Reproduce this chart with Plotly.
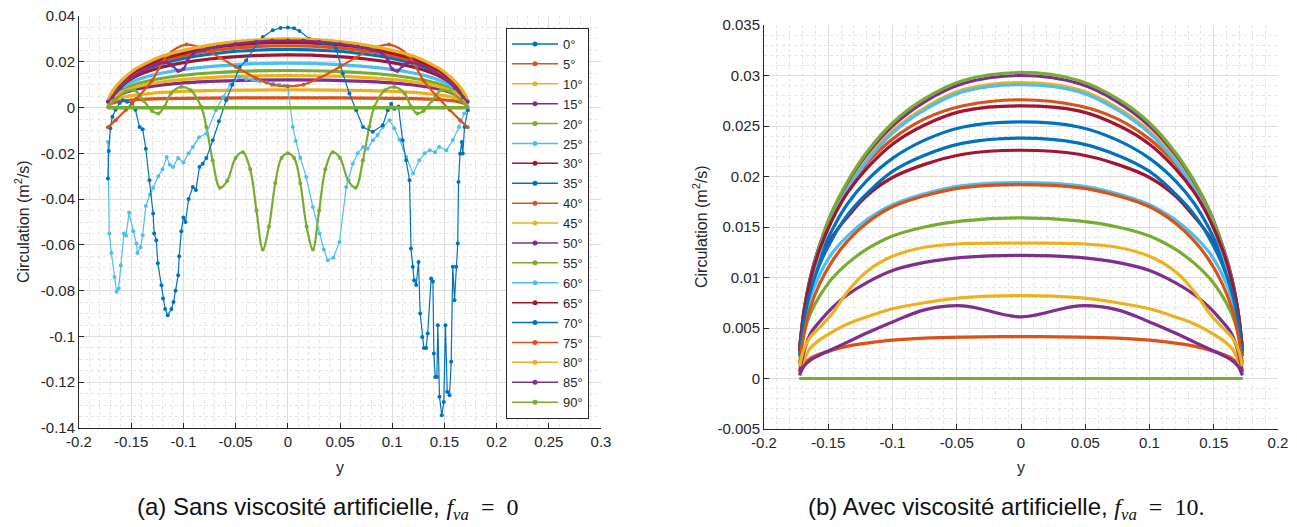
import plotly.graph_objects as go

# ---------------- common ----------------
ANGLES = [0, 5, 10, 15, 20, 25, 30, 35, 40, 45, 50, 55, 60, 65, 70, 75, 80, 85, 90]
ANGLE_LABELS = [f"{a}°" for a in ANGLES]
MATLAB_COLORS = ["#0072BD", "#D95319", "#EDB120", "#7E2F8E", "#77AC30", "#4DBEEE", "#A2142F"]

# span positions shared by the smooth distributions
Y_GRID = [-0.1723, -0.169, -0.164, -0.157, -0.147, -0.135, -0.12, -0.1, -0.075, -0.045, 0.0,
          0.045, 0.075, 0.1, 0.12, 0.135, 0.147, 0.157, 0.164, 0.169, 0.1723]

# ---------------- panel (a): sans viscosite artificielle ----------------
A_0 = [0.0, 0.0, 0.0, 0.0, 0.0, 0.0, 0.0, 0.0, 0.0, 0.0, 0.0, 0.0, 0.0, 0.0, 0.0, 0.0, 0.0, 0.0, 0.0, 0.0, 0.0]
A_5 = [0.0008, 0.0018, 0.0025, 0.0030, 0.0034, 0.0037, 0.0039, 0.00405, 0.00415, 0.0042, 0.0042, 0.0042, 0.00415, 0.00405, 0.0039, 0.0037, 0.0034, 0.0030, 0.0025, 0.0018, 0.0008]
A_10 = [0.0012, 0.0026, 0.0037, 0.0046, 0.0054, 0.0060, 0.0066, 0.0071, 0.0074, 0.0076, 0.0077, 0.0076, 0.0074, 0.0071, 0.0066, 0.0060, 0.0054, 0.0046, 0.0037, 0.0026, 0.0012]
A_15 = [0.0015, 0.0034, 0.0050, 0.0064, 0.0079, 0.0089, 0.0099, 0.0108, 0.0114, 0.0119, 0.0121, 0.0119, 0.0114, 0.0108, 0.0099, 0.0089, 0.0079, 0.0064, 0.0050, 0.0034, 0.0015]
A_20 = [0.0018, 0.0040, 0.0061, 0.0080, 0.0100, 0.0115, 0.0128, 0.0141, 0.0151, 0.0158, 0.0162, 0.0158, 0.0151, 0.0141, 0.0128, 0.0115, 0.0100, 0.0080, 0.0061, 0.0040, 0.0018]
A_25 = [0.0020, 0.0045, 0.0069, 0.0092, 0.0116, 0.0135, 0.0151, 0.0167, 0.0179, 0.0189, 0.0194, 0.0189, 0.0179, 0.0167, 0.0151, 0.0135, 0.0116, 0.0092, 0.0069, 0.0045, 0.0020]
A_30 = [0.0022, 0.0050, 0.0077, 0.0104, 0.0133, 0.0156, 0.0177, 0.0196, 0.0212, 0.0224, 0.0230, 0.0224, 0.0212, 0.0196, 0.0177, 0.0156, 0.0133, 0.0104, 0.0077, 0.0050, 0.0022]
A_35 = [0.0024, 0.0053, 0.0082, 0.0111, 0.0143, 0.0169, 0.0193, 0.0215, 0.0233, 0.0247, 0.0254, 0.0247, 0.0233, 0.0215, 0.0193, 0.0169, 0.0143, 0.0111, 0.0082, 0.0053, 0.0024]
A_40 = [0.0025, 0.0056, 0.0086, 0.0116, 0.0150, 0.0178, 0.0204, 0.0227, 0.0247, 0.0262, 0.0270, 0.0262, 0.0247, 0.0227, 0.0204, 0.0178, 0.0150, 0.0116, 0.0086, 0.0056, 0.0025]
A_45 = [0.0015, 0.0036, 0.0054, 0.0071, 0.0088, 0.0101, 0.0112, 0.0123, 0.0131, 0.0137, 0.0140, 0.0137, 0.0131, 0.0123, 0.0112, 0.0101, 0.0088, 0.0071, 0.0054, 0.0036, 0.0015]
A_50 = [0.0027, 0.0059, 0.0091, 0.0123, 0.0159, 0.0189, 0.0218, 0.0244, 0.0266, 0.0283, 0.0292, 0.0283, 0.0266, 0.0244, 0.0218, 0.0189, 0.0159, 0.0123, 0.0091, 0.0059, 0.0027]
A_65 = [0.0026, 0.0058, 0.0089, 0.0120, 0.0156, 0.0185, 0.0213, 0.0238, 0.0260, 0.0276, 0.0285, 0.0276, 0.0260, 0.0238, 0.0213, 0.0185, 0.0156, 0.0120, 0.0089, 0.0058, 0.0026]
A_80 = [0.0030, 0.0062, 0.0095, 0.0128, 0.0165, 0.0195, 0.0225, 0.0250, 0.0273, 0.0290, 0.0300, 0.0290, 0.0273, 0.0250, 0.0225, 0.0195, 0.0165, 0.0128, 0.0095, 0.0062, 0.0030]
A_90 = [0.0, 0.0, 0.0, 0.0, 0.0, 0.0, 0.0, 0.0, 0.0, 0.0, 0.0, 0.0, 0.0, 0.0, 0.0, 0.0, 0.0, 0.0, 0.0, 0.0, 0.0]

A_55_Y = [-0.1723, -0.165, -0.155, -0.147, -0.138, -0.13, -0.124, -0.118, -0.112, -0.102, -0.093, -0.083,
          -0.078, -0.072, -0.065, -0.058, -0.05, -0.043, -0.036, -0.03, -0.024, -0.018, -0.012, -0.006, 0.0,
          0.006, 0.012, 0.018, 0.024, 0.03, 0.036, 0.043, 0.05, 0.058, 0.065, 0.072, 0.078, 0.083, 0.093,
          0.102, 0.112, 0.118, 0.124, 0.13, 0.138, 0.147, 0.155, 0.165, 0.1723]
A_55 = [0.0002, 0.0035, 0.0070, 0.0076, 0.0030, -0.0015, -0.0026, 0.0005, 0.0061, 0.0090, 0.0076, 0.0003,
        -0.0085, -0.0230, -0.0350, -0.0320, -0.0220, -0.0195, -0.0270, -0.0450, -0.0620, -0.0520, -0.0330, -0.0220, -0.0200,
        -0.0220, -0.0330, -0.0520, -0.0620, -0.0450, -0.0270, -0.0195, -0.0220, -0.0320, -0.0350, -0.0230, -0.0085, 0.0003, 0.0076,
        0.0090, 0.0061, 0.0005, -0.0026, -0.0015, 0.0030, 0.0076, 0.0070, 0.0035, 0.0002]

A_60_Y = [-0.1723, -0.171, -0.169, -0.166, -0.164, -0.162, -0.160, -0.157, -0.155, -0.152, -0.148, -0.145,
          -0.144, -0.141, -0.139, -0.136, -0.132, -0.129, -0.124, -0.12, -0.116, -0.113, -0.11, -0.105, -0.1,
          -0.095, -0.091, -0.085, -0.078, -0.069, -0.062, -0.055, -0.046, -0.04, -0.0335, -0.027, -0.0207,
          -0.014, -0.008, -0.003, 0.0, 0.0048, 0.0077, 0.012, 0.0176, 0.024, 0.0304, 0.0345, 0.0383, 0.0437,
          0.0495, 0.056, 0.0623, 0.067, 0.072, 0.0765, 0.0814, 0.086, 0.091, 0.0975, 0.102, 0.107, 0.1134,
          0.12, 0.126, 0.131, 0.136, 0.141, 0.145, 0.152, 0.158, 0.164, 0.169, 0.1723]
A_60 = [-0.0150, -0.0550, -0.0635, -0.0740, -0.0805, -0.0790, -0.0690, -0.0550, -0.0560, -0.0460, -0.0540, -0.0594,
        -0.0635, -0.0610, -0.0558, -0.0430, -0.0380, -0.0350, -0.0300, -0.0270, -0.0216, -0.0250, -0.0260, -0.0220, -0.0240,
        -0.0200, -0.0172, -0.0130, -0.0114, -0.0012, 0.0046, 0.0100, 0.0135, 0.0125, 0.0120, 0.0115, 0.0110,
        0.0105, 0.0100, 0.0096, 0.0093, -0.0085, -0.0146, -0.0220, -0.0303, -0.0434, -0.0550, -0.0620, -0.0667, -0.0656,
        -0.0587, -0.0347, -0.0245, -0.0200, -0.0172, -0.0180, -0.0143, -0.0120, -0.0085, -0.0056, -0.0090, -0.0140, -0.0216,
        -0.0288, -0.0230, -0.0200, -0.0186, -0.0195, -0.0172, -0.0186, -0.0143, -0.0085, -0.0026, -0.0010]

A_70_Y = [-0.1723, -0.1715, -0.170, -0.168, -0.165, -0.161, -0.158, -0.154, -0.149, -0.146, -0.142, -0.139,
          -0.136, -0.1325, -0.129, -0.128, -0.126, -0.1245, -0.121, -0.1195, -0.1175, -0.115, -0.1115, -0.1095,
          -0.1075, -0.105, -0.104, -0.102, -0.1, -0.098, -0.095, -0.091, -0.088, -0.0846, -0.0815, -0.078,
          -0.0718, -0.066, -0.059, -0.053, -0.046, -0.0399, -0.0335, -0.024, -0.0144, -0.007, 0.0, 0.006,
          0.0112, 0.0208, 0.0304, 0.0345, 0.0383, 0.042, 0.0463, 0.0527, 0.059, 0.0655, 0.072, 0.0814, 0.091,
          0.0957, 0.099, 0.102, 0.106, 0.110, 0.1134, 0.1166, 0.118, 0.1197, 0.121, 0.123, 0.1252, 0.1268,
          0.1287, 0.1303, 0.1325, 0.134, 0.1373, 0.139, 0.1399, 0.1412, 0.1428, 0.1437, 0.1453, 0.1475, 0.1494,
          0.151, 0.1527, 0.1549, 0.1565, 0.158, 0.1597, 0.1613, 0.1628, 0.1635, 0.165, 0.1667, 0.1676, 0.1693,
          0.1724]
A_70 = [-0.0310, -0.0190, -0.0090, -0.0040, -0.0010, 0.0020, 0.0032, 0.0025, 0.0020, -0.0010, -0.0085, -0.0095,
        -0.0180, -0.0318, -0.0463, -0.0550, -0.0580, -0.0680, -0.0776, -0.0834, -0.0880, -0.0907, -0.0880, -0.0850,
        -0.0800, -0.0733, -0.0650, -0.0540, -0.0480, -0.0500, -0.0400, -0.0347, -0.0360, -0.0260, -0.0245, -0.0220,
        -0.0143, -0.0060, 0.0032, 0.0100, 0.0177, 0.0206, 0.0250, 0.0308, 0.0338, 0.0348, 0.0350, 0.0346,
        0.0334, 0.0301, 0.0284, 0.0280, 0.0287, 0.0280, 0.0257, 0.0149, 0.0061, -0.0012, -0.0085, -0.0106, -0.0077,
        -0.0012, 0.0017, -0.0005, 0.0005, -0.0143, -0.0230, -0.0318, -0.0616, -0.0696, -0.0755, -0.0775, -0.0675, -0.0900,
        -0.1002, -0.1050, -0.1050, -0.0987, -0.0747, -0.0760, -0.1075, -0.1177, -0.1177, -0.0951, -0.1264, -0.1344, -0.1286,
        -0.0951, -0.1242, -0.1257, -0.1111, -0.0696, -0.0842, -0.0696, -0.0594, -0.0325, -0.0202, -0.0150, -0.0201, -0.0085,
        -0.0012]

A_75_Y = [-0.1723, -0.165, -0.155, -0.145, -0.13, -0.115, -0.097, -0.08, -0.065, -0.05, -0.03, -0.015, 0.0,
          0.015, 0.03, 0.05, 0.065, 0.08, 0.097, 0.115, 0.13, 0.145, 0.155, 0.165, 0.1723]
A_75 = [-0.0086, -0.0055, -0.0010, 0.0038, 0.0118, 0.0230, 0.0275, 0.0255, 0.0218, 0.0178, 0.0128, 0.0100, 0.0093,
        0.0100, 0.0128, 0.0178, 0.0218, 0.0255, 0.0275, 0.0230, 0.0118, 0.0038, -0.0010, -0.0055, -0.0086]

A_85_Y = [-0.1723, -0.168, -0.16, -0.15, -0.14, -0.128, -0.116, -0.11, -0.105, -0.1, -0.096, -0.09, -0.08,
          -0.067, -0.05, -0.03, -0.015, 0.0, 0.015, 0.03, 0.05, 0.067, 0.08, 0.09, 0.096, 0.1, 0.105, 0.11,
          0.116, 0.128, 0.14, 0.15, 0.16, 0.168, 0.1723]
A_85 = [0.0025, 0.0045, 0.0085, 0.0128, 0.0158, 0.0185, 0.0198, 0.0182, 0.0160, 0.0168, 0.0205, 0.0238, 0.0252,
        0.0266, 0.0278, 0.0288, 0.0292, 0.0293, 0.0292, 0.0288, 0.0278, 0.0266, 0.0252, 0.0238, 0.0205, 0.0168, 0.0160, 0.0182,
        0.0198, 0.0185, 0.0158, 0.0128, 0.0085, 0.0045, 0.0025]

# ---------------- panel (b): avec viscosite artificielle ----------------
B_0 = [0.0, 0.0, 0.0, 0.0, 0.0, 0.0, 0.0, 0.0, 0.0, 0.0, 0.0, 0.0, 0.0, 0.0, 0.0, 0.0, 0.0, 0.0, 0.0, 0.0, 0.0]
B_5 = [0.0005, 0.0014, 0.0020, 0.0024, 0.0028, 0.0032, 0.0035, 0.0038, 0.0040, 0.0041, 0.00415, 0.0041, 0.0040, 0.0038, 0.0035, 0.0032, 0.0028, 0.0024, 0.0020, 0.0014, 0.0005]
B_10 = [0.0005, 0.0018, 0.0030, 0.0038, 0.0046, 0.0054, 0.0061, 0.0069, 0.0075, 0.0080, 0.0082, 0.0080, 0.0075, 0.0069, 0.0061, 0.0054, 0.0046, 0.0038, 0.0030, 0.0018, 0.0005]
B_15 = [0.0007, 0.0026, 0.0044, 0.0056, 0.0070, 0.0083, 0.0095, 0.0107, 0.0115, 0.0120, 0.0122, 0.0120, 0.0115, 0.0107, 0.0095, 0.0083, 0.0070, 0.0056, 0.0044, 0.0026, 0.0007]
B_20 = [0.0025, 0.0045, 0.0064, 0.0081, 0.0099, 0.0114, 0.0128, 0.0141, 0.0150, 0.0156, 0.0159, 0.0156, 0.0150, 0.0141, 0.0128, 0.0114, 0.0099, 0.0081, 0.0064, 0.0045, 0.0025]
B_25 = [0.0025, 0.0054, 0.0080, 0.0102, 0.0124, 0.0141, 0.0157, 0.0172, 0.0183, 0.0191, 0.0194, 0.0191, 0.0183, 0.0172, 0.0157, 0.0141, 0.0124, 0.0102, 0.0080, 0.0054, 0.0025]
B_30 = [0.0028, 0.0061, 0.0090, 0.0115, 0.0140, 0.0160, 0.0181, 0.0199, 0.0212, 0.0222, 0.0226, 0.0222, 0.0212, 0.0199, 0.0181, 0.0160, 0.0140, 0.0115, 0.0090, 0.0061, 0.0028]
B_35 = [0.0025, 0.0061, 0.0091, 0.0119, 0.0147, 0.0173, 0.0196, 0.0218, 0.0236, 0.0249, 0.0254, 0.0249, 0.0236, 0.0218, 0.0196, 0.0173, 0.0147, 0.0119, 0.0091, 0.0061, 0.0025]
B_40 = [0.0028, 0.0066, 0.0099, 0.0130, 0.0160, 0.0188, 0.0213, 0.0237, 0.0257, 0.0270, 0.0276, 0.0270, 0.0257, 0.0237, 0.0213, 0.0188, 0.0160, 0.0130, 0.0099, 0.0066, 0.0028]
B_45 = [0.0026, 0.0060, 0.0094, 0.0125, 0.0159, 0.0189, 0.0217, 0.0245, 0.0268, 0.0286, 0.0293, 0.0286, 0.0268, 0.0245, 0.0217, 0.0189, 0.0159, 0.0125, 0.0094, 0.0060, 0.0026]
B_50 = [0.0030, 0.0066, 0.0100, 0.0131, 0.0165, 0.0194, 0.0222, 0.0250, 0.0274, 0.0292, 0.0300, 0.0292, 0.0274, 0.0250, 0.0222, 0.0194, 0.0165, 0.0131, 0.0100, 0.0066, 0.0030]
B_55 = [0.0028, 0.0064, 0.0098, 0.0130, 0.0165, 0.0195, 0.0224, 0.0253, 0.0277, 0.0295, 0.0303, 0.0295, 0.0277, 0.0253, 0.0224, 0.0195, 0.0165, 0.0130, 0.0098, 0.0064, 0.0028]
B_60 = [0.0025, 0.0059, 0.0093, 0.0124, 0.0158, 0.0187, 0.0215, 0.0243, 0.0266, 0.0284, 0.0291, 0.0284, 0.0266, 0.0243, 0.0215, 0.0187, 0.0158, 0.0124, 0.0093, 0.0059, 0.0025]
B_65 = [0.0027, 0.0065, 0.0097, 0.0127, 0.0157, 0.0184, 0.0208, 0.0232, 0.0251, 0.0265, 0.0270, 0.0265, 0.0251, 0.0232, 0.0208, 0.0184, 0.0157, 0.0127, 0.0097, 0.0065, 0.0027]
B_70 = [0.0022, 0.0057, 0.0086, 0.0112, 0.0138, 0.0162, 0.0183, 0.0205, 0.0221, 0.0233, 0.0238, 0.0233, 0.0221, 0.0205, 0.0183, 0.0162, 0.0138, 0.0112, 0.0086, 0.0057, 0.0022]
B_75 = [0.0015, 0.0043, 0.0070, 0.0093, 0.0116, 0.0136, 0.0154, 0.0170, 0.0181, 0.0189, 0.0192, 0.0189, 0.0181, 0.0170, 0.0154, 0.0136, 0.0116, 0.0093, 0.0070, 0.0043, 0.0015]
B_80 = [0.0012, 0.0029, 0.0041, 0.0050, 0.0064, 0.0086, 0.0106, 0.0121, 0.0130, 0.01335, 0.0134, 0.01335, 0.0130, 0.0121, 0.0106, 0.0086, 0.0064, 0.0050, 0.0041, 0.0029, 0.0012]
B_85 = [0.0003, 0.0012, 0.0018, 0.0023, 0.0029, 0.0036, 0.0045, 0.0056, 0.0068, 0.0072, 0.0061, 0.0072, 0.0068, 0.0056, 0.0045, 0.0036, 0.0029, 0.0023, 0.0018, 0.0012, 0.0003]
B_90 = [0.0, 0.0, 0.0, 0.0, 0.0, 0.0, 0.0, 0.0, 0.0, 0.0, 0.0, 0.0, 0.0, 0.0, 0.0, 0.0, 0.0, 0.0, 0.0, 0.0, 0.0]

# ---------------- tick labels ----------------
A_X_TICKS = [-0.2, -0.15, -0.1, -0.05, 0.0, 0.05, 0.1, 0.15, 0.2, 0.25, 0.3]
A_X_LABELS = ["-0.2", "-0.15", "-0.1", "-0.05", "0", "0.05", "0.1", "0.15", "0.2", "0.25", "0.3"]
A_Y_TICKS = [-0.14, -0.12, -0.1, -0.08, -0.06, -0.04, -0.02, 0.0, 0.02, 0.04]
A_Y_LABELS = ["-0.14", "-0.12", "-0.1", "-0.08", "-0.06", "-0.04", "-0.02", "0", "0.02", "0.04"]
B_X_TICKS = [-0.2, -0.15, -0.1, -0.05, 0.0, 0.05, 0.1, 0.15, 0.2]
B_X_LABELS = ["-0.2", "-0.15", "-0.1", "-0.05", "0", "0.05", "0.1", "0.15", "0.2"]
B_Y_TICKS = [-0.005, 0.0, 0.005, 0.01, 0.015, 0.02, 0.025, 0.03, 0.035]
B_Y_LABELS = ["-0.005", "0", "0.005", "0.01", "0.015", "0.02", "0.025", "0.03", "0.035"]

# series per angle: (span positions, values, kind)
PANEL_A = {
    0: (Y_GRID, A_0, "smooth"), 5: (Y_GRID, A_5, "smooth"), 10: (Y_GRID, A_10, "smooth"),
    15: (Y_GRID, A_15, "smooth"), 20: (Y_GRID, A_20, "smooth"), 25: (Y_GRID, A_25, "smooth"),
    30: (Y_GRID, A_30, "smooth"), 35: (Y_GRID, A_35, "smooth"), 40: (Y_GRID, A_40, "smooth"),
    45: (Y_GRID, A_45, "smooth"), 50: (Y_GRID, A_50, "smooth"), 55: (A_55_Y, A_55, "wave"),
    60: (A_60_Y, A_60, "noisy"), 65: (Y_GRID, A_65, "smooth"), 70: (A_70_Y, A_70, "noisy"),
    75: (A_75_Y, A_75, "wave"), 80: (Y_GRID, A_80, "smooth"), 85: (A_85_Y, A_85, "wave"),
    90: (Y_GRID, A_90, "smooth"),
}
PANEL_B = {a: (Y_GRID, v, "smooth") for a, v in zip(ANGLES, [B_0, B_5, B_10, B_15, B_20, B_25, B_30, B_35, B_40, B_45,
                                                              B_50, B_55, B_60, B_65, B_70, B_75, B_80, B_85, B_90])}

W, H = 1297, 527
fig = go.Figure()

def color_of(i):
    return MATLAB_COLORS[i % len(MATLAB_COLORS)]

# legend entries (legend of panel a)
for i, lab in enumerate(ANGLE_LABELS):
    fig.add_trace(go.Scatter(x=[None], y=[None], mode="lines+markers", name=lab,
                             line=dict(color=color_of(i), width=1.5),
                             marker=dict(color=color_of(i), size=5),
                             xaxis="x", yaxis="y", showlegend=True, hoverinfo="skip"))

def add_series(panel, xa, ya):
    for i, a in enumerate(ANGLES):
        xs, vs, kind = panel[a]
        c = color_of(i)
        if kind == "smooth":
            tr = go.Scatter(x=xs, y=vs, mode="lines", line=dict(color=c, width=3.2, shape="spline", smoothing=1.0))
        elif kind == "wave":
            tr = go.Scatter(x=xs, y=vs, mode="lines+markers", line=dict(color=c, width=2.2, shape="spline", smoothing=1.0),
                            marker=dict(color=c, size=4))
        else:
            tr = go.Scatter(x=xs, y=vs, mode="lines+markers", line=dict(color=c, width=1.2),
                            marker=dict(color=c, size=4))
        tr.update(xaxis=xa, yaxis=ya, showlegend=False, hoverinfo="skip")
        fig.add_trace(tr)

add_series(PANEL_A, "x", "y")
add_series(PANEL_B, "x2", "y2")

AX = "#262626"
def axis_style(ticks, labels, rng, minor_dtick, domain, anchor):
    return dict(domain=domain, anchor=anchor, range=rng, tickmode="array", tickvals=ticks, ticktext=labels,
                automargin=False,
                showline=True, linecolor=AX, linewidth=1, ticks="inside", ticklen=5, tickcolor=AX,
                tickfont=dict(family="Liberation Sans, Arial, sans-serif", size=15, color=AX),
                showgrid=True, gridcolor="#dcdcdc", gridwidth=1, zeroline=False, mirror=False,
                minor=dict(dtick=minor_dtick, tick0=0, showgrid=True, gridcolor="#e4e4e4", griddash="dot",
                           gridwidth=1, ticks=""))

ax_l = [79 / W, 601 / W]
ay_l = [1 - 428 / H, 1 - 16 / H]
bx_l = [764 / W, 1278 / W]
by_l = [1 - 429 / H, 1 - 25 / H]

fig.update_layout(
    width=W, height=H, margin=dict(l=0, r=0, t=0, b=0, autoexpand=False),
    paper_bgcolor="white", plot_bgcolor="white",
    font=dict(family="Liberation Sans, Arial, sans-serif", color=AX),
    xaxis=axis_style(A_X_TICKS, A_X_LABELS, [-0.2, 0.3], 0.01, ax_l, "y"),
    yaxis=axis_style(A_Y_TICKS, A_Y_LABELS, [-0.14, 0.04], 0.005, ay_l, "x"),
    xaxis2=axis_style(B_X_TICKS, B_X_LABELS, [-0.2, 0.2], 0.01, bx_l, "y2"),
    yaxis2=axis_style(B_Y_TICKS, B_Y_LABELS, [-0.005, 0.035], 0.001, by_l, "x2"),
    legend=dict(x=506 / W, y=1 - 28 / H, xanchor="left", yanchor="top", bgcolor="white",
                bordercolor=AX, borderwidth=1, itemwidth=46,
                font=dict(size=13, color=AX, family="Liberation Sans, Arial, sans-serif"), tracegroupgap=0),
    showlegend=True,
)

ann_font = dict(family="Liberation Sans, Arial, sans-serif", size=16, color=AX)
ylab = "Circulation (m<sup>2</sup>/s)"
math_a = "<span style='font-family:Liberation Serif'><i>f</i><sub><i>va</i></sub>  =  0</span>"
math_b = "<span style='font-family:Liberation Serif'><i>f</i><sub><i>va</i></sub>  =  10.</span>"
annotations = [
    dict(x=22 / W, y=1 - 222 / H, text=ylab, textangle=-90, showarrow=False, xref="paper", yref="paper",
         xanchor="center", yanchor="middle", font=ann_font),
    dict(x=700 / W, y=1 - 227 / H, text=ylab, textangle=-90, showarrow=False, xref="paper", yref="paper",
         xanchor="center", yanchor="middle", font=ann_font),
    dict(x=340 / W, y=1 - 467 / H, text="y", showarrow=False, xref="paper", yref="paper",
         xanchor="center", yanchor="middle", font=ann_font),
    dict(x=1021 / W, y=1 - 467 / H, text="y", showarrow=False, xref="paper", yref="paper",
         xanchor="center", yanchor="middle", font=ann_font),
    dict(x=135 / W, y=1 - 508 / H, text="(a) Sans viscosité artificielle, " + math_a, showarrow=False,
         xref="paper", yref="paper", xanchor="left", yanchor="middle",
         font=dict(family="Liberation Sans, Arial, sans-serif", size=24, color="#111111")),
    dict(x=806 / W, y=1 - 508 / H, text="(b) Avec viscosité artificielle, " + math_b, showarrow=False,
         xref="paper", yref="paper", xanchor="left", yanchor="middle",
         font=dict(family="Liberation Sans, Arial, sans-serif", size=24, color="#111111")),
]
fig.update_layout(annotations=annotations)

fig.write_html("out.html", config={"displayModeBar": False},
               post_script="document.body.style.margin='0px';document.body.style.overflow='hidden';")
